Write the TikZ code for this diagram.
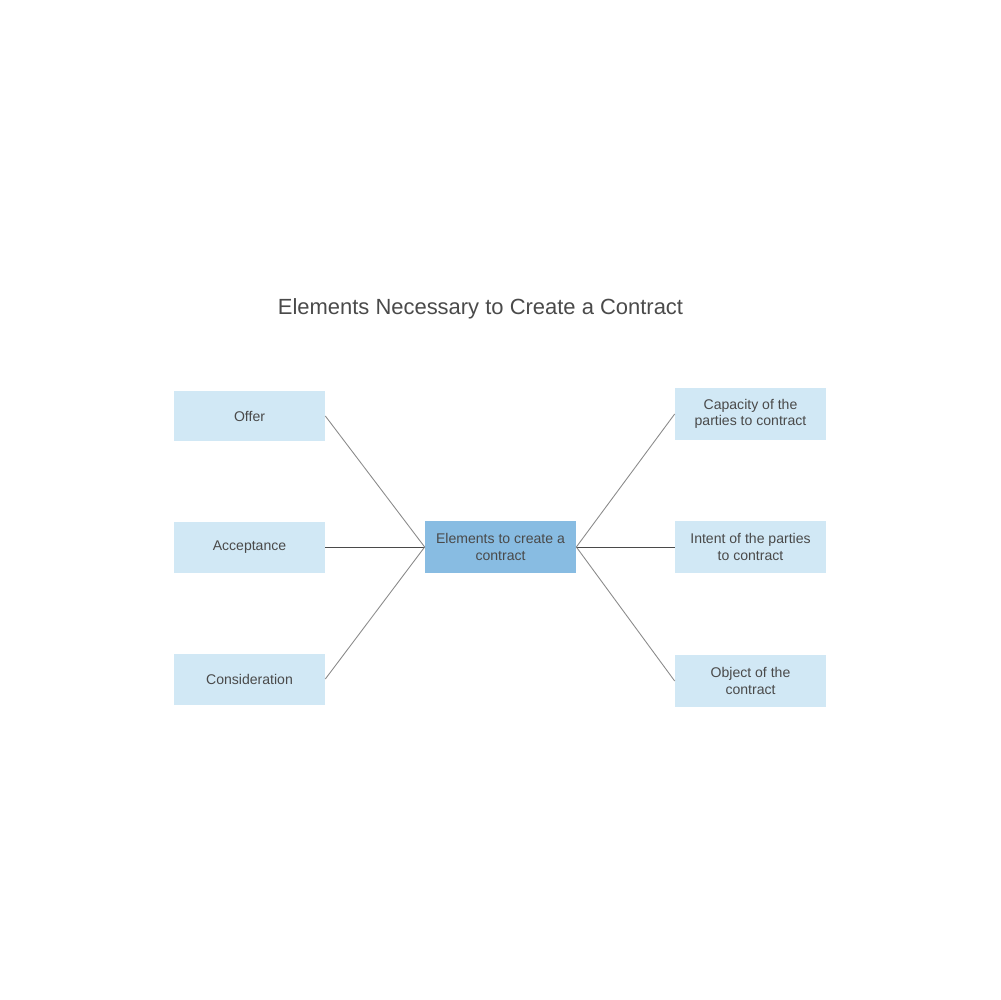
\documentclass[tikz,border=0pt]{standalone}
\usepackage{fontspec}
\setmainfont{Liberation Sans}
\usepackage{tikz}
\usetikzlibrary{shapes}

\definecolor{leafblue}{HTML}{D1E8F5}
\definecolor{hubblue}{HTML}{88BCE2}
\definecolor{inkgray}{HTML}{4A4A4A}
\definecolor{wiregray}{HTML}{8A8A8A}

\begin{document}
\begin{tikzpicture}[x=0.02cm, y=-0.02cm]

\tikzset{leaf/.style = {shape=rectangle, fill=leafblue, minimum width=3.02cm, minimum height=1.02cm, inner sep=1pt, align=center, font=\fontsize{8}{9.2}\selectfont, text=inkgray}}
\tikzset{hub/.style = {leaf, fill=hubblue, minimum height=1.04cm}}
\tikzset{wire/.style = {draw=wiregray, line width=0.5pt}}
\useasboundingbox (0,0) rectangle (1000,1000);
% title
\node[font=\fontsize{12.5}{14}\selectfont, text=inkgray] (title) at (480.5,309) {Elements Necessary to Create a Contract};
% boxes
\node[hub] (hub) at (500.5,547) {Elements to create a\\contract};
\node[leaf] (offer) at (249.5,416) {Offer};
\node[leaf] (accept) at (249.5,547) {Acceptance};
\node[leaf] (consid) at (249.5,679) {Consideration};
\node[leaf, minimum height=1.04cm] (capac) at (750.5,414) {Capacity of the\\parties to contract};
\node[leaf, minimum height=1.04cm] (intent) at (750.5,547) {Intent of the parties\\to contract};
\node[leaf, minimum height=1.04cm] (object) at (750.5,681) {Object of the\\contract};
% links
\draw[wire] (offer.east) -- (hub.west);
\draw[wire, draw=inkgray] (accept.east) -- (hub.west);
\draw[wire] (consid.east) -- (hub.west);
\draw[wire] (hub.east) -- (capac.west);
\draw[wire, draw=inkgray] (hub.east) -- (intent.west);
\draw[wire] (hub.east) -- (object.west);
\end{tikzpicture}
\end{document}
